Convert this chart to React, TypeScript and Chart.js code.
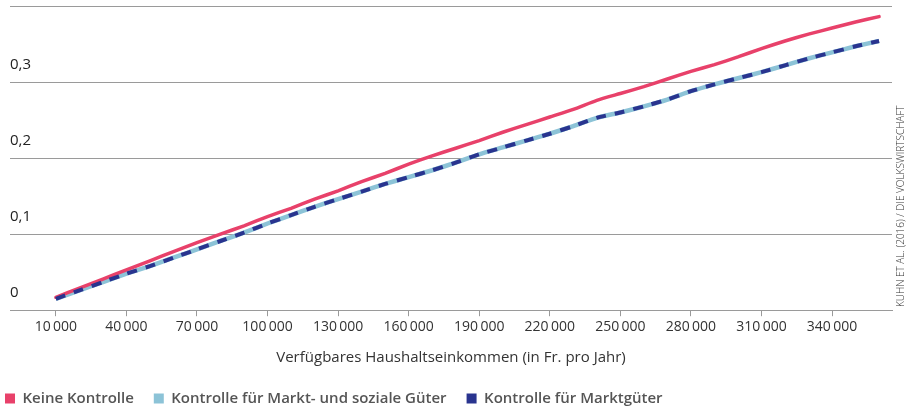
import React, { useEffect, useRef } from 'react';
import { Chart, registerables } from 'chart.js';

Chart.register(...registerables);

// Verfügbares Haushaltseinkommen (Fr. pro Jahr)
const incomes = [
  10000, 20000, 30000, 40000, 50000, 60000, 70000, 80000, 90000, 100000,
  110000, 120000, 130000, 140000, 150000, 160000, 170000, 180000, 190000, 200000,
  210000, 220000, 230000, 240000, 250000, 260000, 270000, 280000, 290000, 300000,
  310000, 320000, 330000, 340000, 350000, 360000,
];

const keineKontrolle = [
  0.017, 0.029, 0.041, 0.053, 0.065, 0.077, 0.089, 0.100, 0.111, 0.123,
  0.134, 0.146, 0.157, 0.169, 0.180, 0.192, 0.203, 0.213, 0.223, 0.234,
  0.244, 0.254, 0.264, 0.276, 0.285, 0.294, 0.304, 0.314, 0.323, 0.333,
  0.344, 0.354, 0.363, 0.371, 0.379, 0.386,
];

const kontrolleMarktSozial = [
  0.015, 0.026, 0.037, 0.048, 0.058, 0.069, 0.080, 0.091, 0.102, 0.114,
  0.125, 0.136, 0.146, 0.156, 0.166, 0.175, 0.184, 0.194, 0.205, 0.214,
  0.223, 0.232, 0.242, 0.253, 0.260, 0.268, 0.277, 0.288, 0.297, 0.305,
  0.313, 0.322, 0.331, 0.339, 0.347, 0.354,
];

const kontrolleMarkt = [
  0.015, 0.026, 0.037, 0.048, 0.058, 0.069, 0.080, 0.091, 0.102, 0.114,
  0.125, 0.136, 0.146, 0.156, 0.166, 0.175, 0.184, 0.194, 0.205, 0.214,
  0.223, 0.232, 0.242, 0.253, 0.260, 0.268, 0.277, 0.288, 0.297, 0.305,
  0.313, 0.322, 0.331, 0.339, 0.347, 0.354,
];

const seriesLabels = [
  'Keine Kontrolle',
  'Kontrolle für Markt- und soziale Güter',
  'Kontrolle für Marktgüter',
];

const xTickValues = [
  10000, 40000, 70000, 100000, 130000, 160000, 190000, 220000, 250000, 280000,
  310000, 340000,
];
const yTickValues = [0, 0.1, 0.2, 0.3, 0.4];

const xTitle = 'Verfügbares Haushaltseinkommen (in Fr. pro Jahr)';
const sourceNote = 'KUHN ET AL. (2016) / DIE VOLKSWIRTSCHAFT';

const RED = '#e8416a';
const LIGHT = '#8cc3d7';
const DARK = '#29348f';
const FONT = "'Open Sans', 'DejaVu Sans', sans-serif";

const fmtThousands = (v: number) =>
  String(v).replace(/(\d)(?=(\d{3})+$)/g, '$1\u2009');

const toPoints = (vals: number[]) => vals.map((y, i) => ({ x: incomes[i], y }));

const sourcePlugin = {
  id: 'sourceNote',
  afterDraw(chart: any) {
    const ctx = chart.ctx;
    ctx.save();
    ctx.translate(901, 307);
    ctx.rotate(-Math.PI / 2);
    ctx.font = `300 10px ${FONT}`;
    ctx.fillStyle = '#333';
    ctx.textAlign = 'left';
    ctx.textBaseline = 'middle';
    ctx.fillText(sourceNote, 0, 0, 224);
    ctx.restore();
  },
};

export default function App() {
  const ref = useRef<HTMLCanvasElement | null>(null);

  useEffect(() => {
    if (!ref.current) return;
    const chart = new Chart(ref.current, {
      type: 'line',
      data: {
        datasets: [
          {
            label: seriesLabels[0],
            data: toPoints(keineKontrolle),
            borderColor: RED,
            backgroundColor: RED,
            borderWidth: 3.5,
            borderCapStyle: 'round',
            pointRadius: 0,
            tension: 0.2,
            order: 1,
          },
          {
            label: seriesLabels[1],
            data: toPoints(kontrolleMarktSozial),
            borderColor: LIGHT,
            backgroundColor: LIGHT,
            borderWidth: 4.5,
            pointRadius: 0,
            tension: 0.2,
            order: 2,
          },
          {
            label: seriesLabels[2],
            data: toPoints(kontrolleMarkt),
            borderColor: DARK,
            backgroundColor: DARK,
            borderWidth: 4,
            borderDash: [10, 9],
            pointRadius: 0,
            tension: 0.2,
            order: 0,
          },
        ],
      },
      options: {
        responsive: false,
        animation: false,
        layout: {
          autoPadding: false,
          padding: { left: -15, right: 14, top: 6, bottom: 6 },
        },
        plugins: {
          tooltip: { enabled: false },
          legend: {
            position: 'bottom',
            align: 'start',
            labels: {
              boxWidth: 10,
              boxHeight: 10,
              padding: 20,
              color: '#555',
              font: { family: FONT, size: 15, weight: '600' },
              generateLabels: (ch: any) =>
                ch.data.datasets.map((ds: any, i: number) => ({
                  text: ds.label,
                  fillStyle: ds.borderColor,
                  strokeStyle: ds.borderColor,
                  lineWidth: 0,
                  lineDash: [],
                  hidden: false,
                  datasetIndex: i,
                  fontColor: '#555',
                })),
            },
          },
        },
        scales: {
          x: {
            type: 'linear',
            min: -9500,
            max: 365500,
            afterBuildTicks: (scale: any) => {
              scale.ticks = xTickValues.map((v) => ({ value: v }));
            },
            ticks: {
              padding: 2,
              maxRotation: 0,
              autoSkip: false,
              color: '#333',
              font: { family: FONT, size: 14 },
              callback: (v: any) => fmtThousands(Number(v)),
            },
            grid: {
              drawOnChartArea: false,
              drawTicks: true,
              tickLength: 6,
              color: '#9a9a9a',
            },
            border: { display: true, color: '#9a9a9a', width: 1 },
            title: {
              display: true,
              text: xTitle,
              color: '#333',
              font: { family: FONT, size: 15 },
              padding: { top: 12, bottom: 4 },
            },
          },
          y: {
            type: 'linear',
            min: 0,
            max: 0.4,
            afterBuildTicks: (scale: any) => {
              scale.ticks = yTickValues.map((v) => ({ value: v }));
            },
            afterFit: (scale: any) => {
              scale.width = 25;
              scale.paddingTop = 0;
              scale.paddingBottom = 0;
            },
            ticks: {
              mirror: true,
              padding: 0,
              labelOffset: -17,
              color: '#222',
              font: { family: FONT, size: 15 },
              callback: (v: any) =>
                Number(v) === 0 ? '0' : Number(v).toFixed(1).replace('.', ','),
            },
            grid: {
              drawTicks: false,
              color: '#9a9a9a',
              lineWidth: 1,
            },
            border: { display: false },
          },
        },
      },
      plugins: [sourcePlugin],
    } as any);
    return () => chart.destroy();
  }, []);

  return (
    <div
      style={{
        position: 'absolute',
        left: 0,
        top: 0,
        width: 906,
        height: 407,
        overflow: 'hidden',
        background: '#fff',
      }}
    >
      <canvas ref={ref} width={906} height={422} style={{ display: 'block' }} />
    </div>
  );
}
